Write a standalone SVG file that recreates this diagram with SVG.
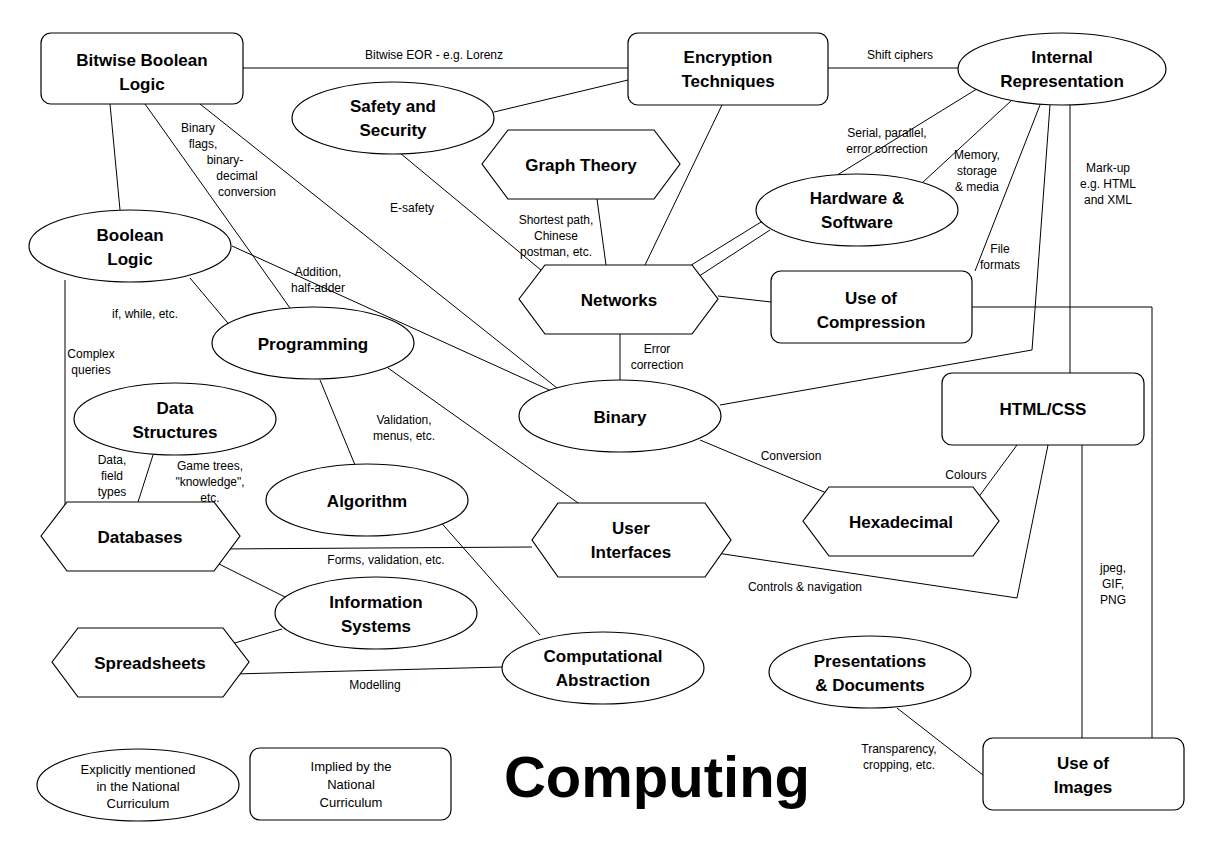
<svg xmlns="http://www.w3.org/2000/svg" width="1205" height="850" viewBox="0 0 1205 850">
<style>
.n{fill:#fff;stroke:#000;stroke-width:1.2}
.t{font-family:"Liberation Sans",Arial,sans-serif;font-weight:bold;font-size:17px;text-anchor:middle}
.l{font-family:"Liberation Sans",Arial,sans-serif;font-size:12px;text-anchor:middle}
.c line,.c polyline{stroke:#000;stroke-width:1;fill:none}
</style>
<rect width="1205" height="850" fill="#fff"/>
<g class="c">
<line x1="243" y1="68" x2="628" y2="68"/>
<line x1="828" y1="68" x2="958" y2="68"/>
<line x1="494" y1="112" x2="628" y2="80"/>
<line x1="110" y1="104" x2="120" y2="210"/>
<line x1="145" y1="104" x2="290" y2="308"/>
<line x1="200" y1="104" x2="562" y2="392"/>
<line x1="232" y1="246" x2="558" y2="394"/>
<line x1="400" y1="153" x2="565" y2="290"/>
<line x1="597" y1="199" x2="606" y2="265"/>
<line x1="722" y1="105" x2="645" y2="265"/>
<line x1="980" y1="87" x2="680" y2="272"/>
<line x1="1012" y1="100" x2="922" y2="183"/>
<line x1="770" y1="230" x2="690" y2="282"/>
<line x1="718" y1="296" x2="771" y2="302"/>
<line x1="620" y1="334" x2="620" y2="380"/>
<line x1="1040" y1="105" x2="975" y2="271"/>
<polyline points="1050,105 1032,350 720,405"/>
<line x1="1070" y1="105" x2="1070" y2="373"/>
<polyline points="972,307 1152,307 1152,738"/>
<line x1="1082" y1="445" x2="1082" y2="738"/>
<line x1="1017" y1="445" x2="972" y2="506"/>
<polyline points="1048,445 1017,598 710,552"/>
<line x1="700" y1="440" x2="855" y2="505"/>
<line x1="190" y1="278" x2="232" y2="328"/>
<line x1="65" y1="280" x2="65" y2="515"/>
<line x1="320" y1="380" x2="355" y2="465"/>
<line x1="388" y1="368" x2="595" y2="515"/>
<line x1="153" y1="455" x2="138" y2="502"/>
<line x1="218" y1="549" x2="532" y2="547"/>
<line x1="205" y1="557" x2="285" y2="597"/>
<line x1="282" y1="629" x2="228" y2="645"/>
<line x1="234" y1="674" x2="502" y2="667"/>
<line x1="430" y1="510" x2="540" y2="635"/>
<line x1="897" y1="708" x2="983" y2="775"/>
</g>
<g class="lbl">
<text class="l" x="434" y="59">Bitwise EOR - e.g. Lorenz</text>
<text class="l" x="900" y="59">Shift ciphers</text>
<text class="l" x="198" y="132">Binary</text>
<text class="l" x="203" y="148">flags,</text>
<text class="l" x="225" y="164">binary-</text>
<text class="l" x="237" y="180">decimal</text>
<text class="l" x="247" y="196">conversion</text>
<text class="l" x="412" y="212">E-safety</text>
<text class="l" x="556" y="224">Shortest path,</text>
<text class="l" x="556" y="240">Chinese</text>
<text class="l" x="556" y="256">postman, etc.</text>
<text class="l" x="887" y="137">Serial, parallel,</text>
<text class="l" x="887" y="153">error correction</text>
<text class="l" x="977" y="159">Memory,</text>
<text class="l" x="977" y="175">storage</text>
<text class="l" x="977" y="191">&amp; media</text>
<text class="l" x="1108" y="172">Mark-up</text>
<text class="l" x="1108" y="188">e.g. HTML</text>
<text class="l" x="1108" y="204">and XML</text>
<text class="l" x="1000" y="253">File</text>
<text class="l" x="1000" y="269">formats</text>
<text class="l" x="318" y="276">Addition,</text>
<text class="l" x="318" y="292">half-adder</text>
<text class="l" x="145" y="318">if, while, etc.</text>
<text class="l" x="91" y="358">Complex</text>
<text class="l" x="91" y="374">queries</text>
<text class="l" x="657" y="353">Error</text>
<text class="l" x="657" y="369">correction</text>
<text class="l" x="404" y="424">Validation,</text>
<text class="l" x="404" y="440">menus, etc.</text>
<text class="l" x="791" y="460">Conversion</text>
<text class="l" x="966" y="479">Colours</text>
<text class="l" x="112" y="464">Data,</text>
<text class="l" x="112" y="480">field</text>
<text class="l" x="112" y="496">types</text>
<text class="l" x="210" y="470">Game trees,</text>
<text class="l" x="210" y="486">"knowledge",</text>
<text class="l" x="210" y="502">etc.</text>
<text class="l" x="386" y="564">Forms, validation, etc.</text>
<text class="l" x="805" y="591">Controls &amp; navigation</text>
<text class="l" x="1113" y="572">jpeg,</text>
<text class="l" x="1113" y="588">GIF,</text>
<text class="l" x="1113" y="604">PNG</text>
<text class="l" x="375" y="689">Modelling</text>
<text class="l" x="899" y="753">Transparency,</text>
<text class="l" x="899" y="769">cropping, etc.</text>
</g>
<g id="bitwise"><rect class="n" x="41" y="33" width="202" height="71" rx="10"/><text class="t" x="142" y="66">Bitwise Boolean</text><text class="t" x="142" y="90">Logic</text></g>
<g id="encryption"><rect class="n" x="628" y="33" width="200" height="72" rx="10"/><text class="t" x="728" y="63">Encryption</text><text class="t" x="728" y="87">Techniques</text></g>
<g id="compression"><rect class="n" x="771" y="271" width="201" height="72" rx="10"/><text class="t" x="871" y="304">Use of</text><text class="t" x="871" y="328">Compression</text></g>
<g id="htmlcss"><rect class="n" x="942" y="373" width="202" height="72" rx="10"/><text class="t" x="1043" y="415">HTML/CSS</text></g>
<g id="images"><rect class="n" x="983" y="738" width="201" height="72" rx="10"/><text class="t" x="1083" y="769">Use of</text><text class="t" x="1083" y="793">Images</text></g>
<g id="legend-implied"><rect class="n" x="250" y="748" width="201" height="72" rx="10"/><text class="l" x="351" y="771" style="font-size:13px">Implied by the</text><text class="l" x="351" y="789" style="font-size:13px">National</text><text class="l" x="351" y="807" style="font-size:13px">Curriculum</text></g>
<g id="internal"><ellipse class="n" cx="1062" cy="69" rx="104" ry="36"/><text class="t" x="1062" y="63">Internal</text><text class="t" x="1062" y="87">Representation</text></g>
<g id="safety"><ellipse class="n" cx="393" cy="118" rx="101" ry="36"/><text class="t" x="393" y="112">Safety and</text><text class="t" x="393" y="136">Security</text></g>
<g id="hardware"><ellipse class="n" cx="857" cy="210" rx="101" ry="36"/><text class="t" x="857" y="204">Hardware &amp;</text><text class="t" x="857" y="228">Software</text></g>
<g id="boolean"><ellipse class="n" cx="130" cy="246" rx="101" ry="36"/><text class="t" x="130" y="241">Boolean</text><text class="t" x="130" y="265">Logic</text></g>
<g id="programming"><ellipse class="n" cx="313" cy="343" rx="101" ry="36"/><text class="t" x="313" y="350">Programming</text></g>
<g id="datastructures"><ellipse class="n" cx="175" cy="419" rx="101" ry="36"/><text class="t" x="175" y="414">Data</text><text class="t" x="175" y="438">Structures</text></g>
<g id="binary"><ellipse class="n" cx="620" cy="416" rx="101" ry="36"/><text class="t" x="620" y="423">Binary</text></g>
<g id="algorithm"><ellipse class="n" cx="367" cy="500" rx="101" ry="36"/><text class="t" x="367" y="507">Algorithm</text></g>
<g id="infosys"><ellipse class="n" cx="376" cy="613" rx="101" ry="36"/><text class="t" x="376" y="608">Information</text><text class="t" x="376" y="632">Systems</text></g>
<g id="computational"><ellipse class="n" cx="603" cy="668" rx="101" ry="36"/><text class="t" x="603" y="662">Computational</text><text class="t" x="603" y="686">Abstraction</text></g>
<g id="presentations"><ellipse class="n" cx="870" cy="672" rx="101" ry="36"/><text class="t" x="870" y="667">Presentations</text><text class="t" x="870" y="691">&amp; Documents</text></g>
<g id="legend-explicit"><ellipse class="n" cx="138" cy="785" rx="101" ry="36"/><text class="l" x="138" y="774" style="font-size:13px">Explicitly mentioned</text><text class="l" x="138" y="791" style="font-size:13px">in the National</text><text class="l" x="138" y="808" style="font-size:13px">Curriculum</text></g>
<g id="graphtheory"><polygon class="n" points="482,164 508,130 654,130 680,164 654,199 508,199"/><text class="t" x="581" y="171">Graph Theory</text></g>
<g id="networks"><polygon class="n" points="519,299 545,265 692,265 718,299 692,334 545,334"/><text class="t" x="619" y="306">Networks</text></g>
<g id="databases"><polygon class="n" points="41,536 67,502 214,502 240,536 214,571 67,571"/><text class="t" x="140" y="543">Databases</text></g>
<g id="userinterfaces"><polygon class="n" points="532,540 558,503 705,503 731,540 705,577 558,577"/><text class="t" x="631" y="534">User</text><text class="t" x="631" y="558">Interfaces</text></g>
<g id="hexadecimal"><polygon class="n" points="803,521 829,487 973,487 999,521 973,556 829,556"/><text class="t" x="901" y="528">Hexadecimal</text></g>
<g id="spreadsheets"><polygon class="n" points="52,662 78,628 223,628 249,662 223,697 78,697"/><text class="t" x="150" y="669">Spreadsheets</text></g>
<text x="657" y="797" style="font-family:'Liberation Sans',Arial,sans-serif;font-weight:bold;font-size:58px;text-anchor:middle">Computing</text>
</svg>
